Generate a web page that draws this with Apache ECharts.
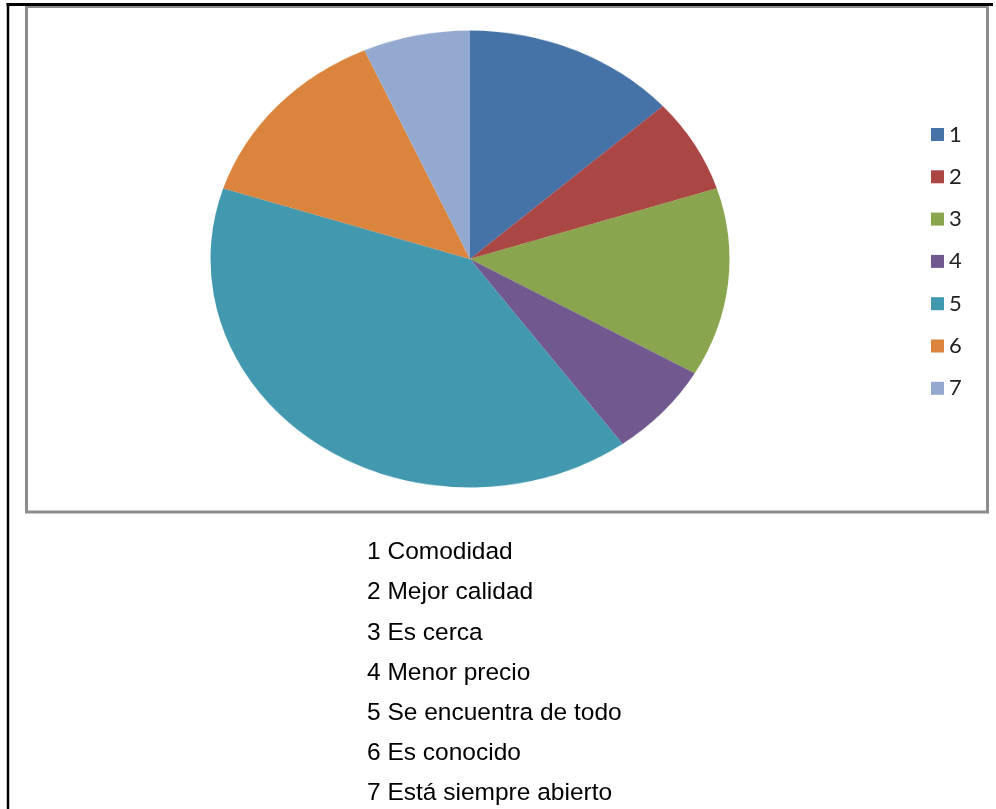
<!DOCTYPE html>
<html>
<head>
<meta charset="utf-8">
<script src="https://cdn.jsdelivr.net/npm/echarts@6/dist/echarts.min.js"></script>
<style>
  html, body { margin: 0; padding: 0; background: #fff; }
  #wrap { position: relative; width: 996px; height: 809px; overflow: hidden; }
  #main { position: absolute; left: 0; top: 0; width: 996px; height: 809px; }
  #pie { position: absolute; left: 209.5px; top: -1.5px; width: 520px; height: 520px;
         transform-origin: 50% 50%; transform: scaleY(0.8805); }
</style>
</head>
<body>
<div id="wrap">
  <div id="main"></div>
  <div id="pie"></div>
</div>
<script>
const categories = ['1', '2', '3', '4', '5', '6', '7'];
const values = [2, 1, 2, 1, 6, 2, 1];
const descriptions = [
  '1 Comodidad',
  '2 Mejor calidad',
  '3 Es cerca',
  '4 Menor precio',
  '5 Se encuentra de todo',
  '6 Es conocido',
  '7 Está siempre abierto'
];
const palette = ['#4572A7', '#AA4643', '#89A54E', '#71588F', '#4198AF', '#DB843D', '#93A9CF'];

const pieData = categories.map((c, i) => ({ name: c, value: values[i] }));

// Main chart: frame, legend, description text
const main = echarts.init(document.getElementById('main'), null, { renderer: 'canvas', width: 996, height: 809 });
const graphics = [
  { type: 'rect', shape: { x: 26.5, y: 6.5, width: 961, height: 505.5 },
    style: { fill: 'none', stroke: '#8c8c8c', lineWidth: 3 }, z: 1 },
  { type: 'line', shape: { x1: 6.5, y1: 4.5, x2: 993, y2: 4.5 },
    style: { stroke: '#000', lineWidth: 3 }, z: 2 },
  { type: 'line', shape: { x1: 8, y1: 3, x2: 8, y2: 809 },
    style: { stroke: '#000', lineWidth: 2.5 }, z: 2 }
];
descriptions.forEach((t, i) => {
  graphics.push({
    type: 'text', left: 367, top: 540 + i * 40.2,
    style: { text: t, fontFamily: 'Liberation Sans, Arial, sans-serif', fontSize: 24.5, fill: '#000' }
  });
});
main.setOption({
  backgroundColor: '#fff',
  animation: false,
  color: palette,
  legend: {
    orient: 'vertical',
    left: 926, top: 118,
    itemWidth: 13, itemHeight: 13,
    itemGap: 19.3,
    icon: 'rect',
    textStyle: { fontFamily: 'Lato, Open Sans, sans-serif', fontSize: 22, color: '#222', lineHeight: 23 },
    data: categories
  },
  graphic: graphics,
  series: [{
    type: 'pie', radius: 0, center: [470, 258], silent: true,
    label: { show: false }, labelLine: { show: false },
    data: pieData
  }]
});

// Pie chart (scaled vertically into an ellipse via CSS)
const pie = echarts.init(document.getElementById('pie'), null, { renderer: 'canvas', width: 520, height: 520 });
pie.setOption({
  backgroundColor: 'transparent',
  animation: false,
  color: palette,
  series: [{
    type: 'pie',
    center: ['50%', '50%'],
    radius: 259.5,
    startAngle: 90,
    clockwise: true,
    label: { show: false },
    labelLine: { show: false },
    itemStyle: { borderWidth: 0 },
    emphasis: { scale: false },
    data: pieData
  }]
});
</script>
</body>
</html>
